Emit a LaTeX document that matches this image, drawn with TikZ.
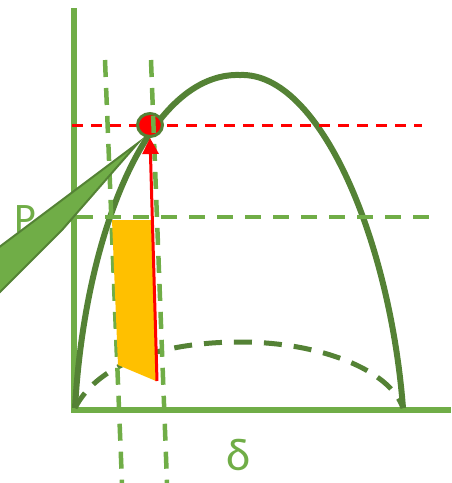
\documentclass[tikz,border=0pt]{standalone}
\usepackage{fontspec}
\setmainfont{Carlito}
\usetikzlibrary{arrows.meta,shapes.geometric}
\definecolor{lg}{HTML}{70AD47}
\definecolor{dg}{HTML}{548235}
\definecolor{yl}{HTML}{FFC000}
\definecolor{rd}{HTML}{FF0000}
\begin{document}
\begin{tikzpicture}[x=1pt,y=-1pt,
  axisline/.style={draw=lg,line width=6.5pt},
  curvesolid/.style={draw=dg,line width=6pt},
  curvedash/.style={draw=dg,line width=5pt,dash pattern=on 18pt off 12pt},
  gdash/.style={draw=lg,line width=4.5pt,dash pattern=on 16pt off 12pt},
  rdash/.style={draw=rd,line width=3pt,dash pattern=on 11pt off 8pt},
  lbl/.style={text=lg,inner sep=0pt}]
\useasboundingbox (0,0) rectangle (451,483);
% coordinates
\coordinate (O) at (75,410);
\coordinate (ytop) at (74,8);
\coordinate (ybot) at (74,413);
\coordinate (xl) at (77,410);
\coordinate (xr) at (451,410);
\coordinate (peak) at (240,75);
\coordinate (E) at (403,408);
\coordinate (S) at (75,408);
\coordinate (dpeak) at (240,342);
% axes
\draw[axisline] (ytop) -- (ybot);
\draw[axisline] (xl) -- (xr);
% curves
\draw[curvesolid] (S) .. controls (85,230) and (150,72) .. (peak)
                     .. controls (320,72) and (390,240) .. (E);
\draw[curvedash] (S) .. controls (100,360) and (170,342) .. (dpeak)
                     .. controls (320,342) and (390,370) .. (E);
% horizontal dashed lines
\coordinate (ra) at (72,125);
\coordinate (rb) at (422,125);
\draw[rdash] (ra) -- (rb);
\coordinate (ga) at (77,217);
\coordinate (gb) at (432,217);
\draw[gdash] (ga) -- (gb);
% operating point
\node[ellipse,draw=dg,fill=rd,line width=3pt,minimum width=25pt,minimum height=23pt,inner sep=0pt] (pt) at (150,125) {};
% vertical dashed lines
\coordinate (v1a) at (105,60);
\coordinate (v1b) at (122,483);
\coordinate (v2a) at (151,60);
\coordinate (v2b) at (167,483);
\draw[gdash,dash pattern=on 17pt off 11pt] (v1a) -- (v1b);
\draw[gdash,dash pattern=on 17pt off 11pt] (v2a) -- (v2b);
% yellow area
\coordinate (y1) at (112,220);
\coordinate (y2) at (152,220);
\coordinate (y3) at (156,381);
\coordinate (y4) at (118,365);
\fill[yl] (y1) -- (y2) -- (y3) -- (y4) -- cycle;
% red arrow
\coordinate (abase) at (157,381);
\coordinate (atip) at (150,138);
\draw[draw=rd,line width=3pt,-{Triangle[width=16pt,length=16pt]}] (abase) -- (atip);
% labels
\node[lbl,font=\fontsize{42}{42}\selectfont] (P) at (25,219) {P};
\node[lbl,font=\fontsize{46}{46}\selectfont] (d) at (239,455) {δ};
% callout wedge
\coordinate (w1) at (138,143);
\coordinate (w2) at (-2,248);
\coordinate (w3) at (-2,294);
\coordinate (w4) at (62,230);
\filldraw[fill=lg,draw=dg,line width=2pt,line join=miter] (w1) -- (w2) -- (w3) -- (w4) -- cycle;
\end{tikzpicture}
\end{document}
